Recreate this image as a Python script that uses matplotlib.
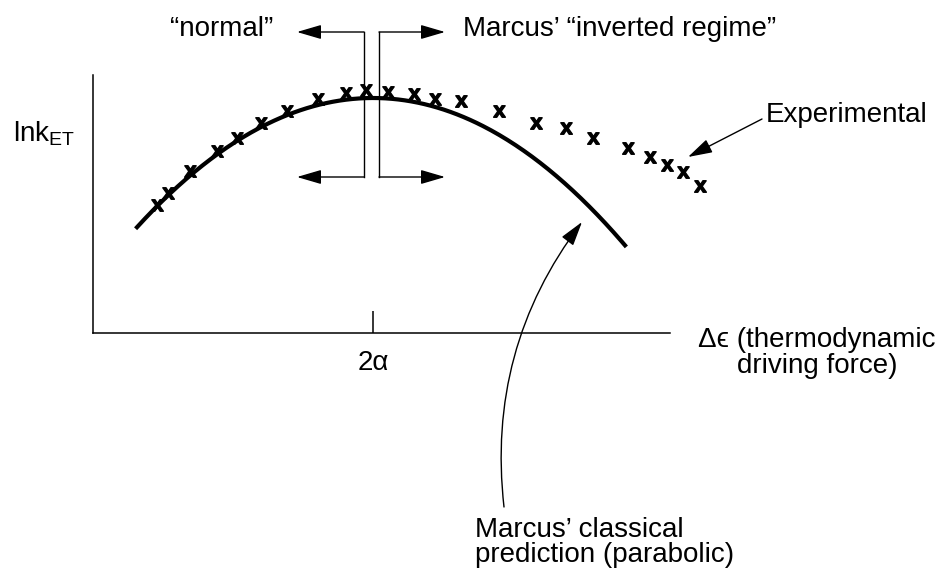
import numpy as np
import matplotlib
matplotlib.use("Agg")
import matplotlib.pyplot as plt

plt.rcParams['font.family'] = ['Liberation Sans', 'DejaVu Sans']
plt.rcParams['mathtext.fontset'] = 'custom'
plt.rcParams['mathtext.rm'] = 'Liberation Sans'
plt.rcParams['mathtext.bf'] = 'Liberation Sans:bold'
FS = 20

# experimental rate points (driving force, ln k)
exp_x = [64, 75, 97, 124, 144, 168, 194, 225, 253, 273, 295, 321, 342, 368,
         406, 443, 473, 500, 535, 557, 574, 590, 607]
exp_y = [128, 140, 162, 182, 195, 210, 222, 234, 240, 243, 241, 239, 234, 232,
         222, 210, 205, 195, 185, 176, 168, 161, 147]

# classical Marcus parabola: apex at 2*alpha
apex_x, apex_y = 280, 235
curv = 0.00232
curve_x = np.linspace(44, 532, 300)
curve_y = apex_y - curv * (curve_x - apex_x) ** 2

fig = plt.figure(figsize=(9.41, 5.70), dpi=100)
ax = fig.add_axes([93 / 941, 237 / 570, 577 / 941, 258 / 570])
ax.set_xlim(0, 577)
ax.set_ylim(0, 258)
for s in ['top', 'right']:
    ax.spines[s].set_visible(False)
for s in ['left', 'bottom']:
    ax.spines[s].set_linewidth(1.1)
ax.set_yticks([])
ax.set_xticks([apex_x])
ax.set_xticklabels(['2α'], fontsize=FS)
ax.tick_params(axis='x', direction='in', length=16, width=1.1, pad=12)

ax.plot(curve_x, curve_y, color='black', lw=3.0, clip_on=False)
ax.plot(exp_x, exp_y, linestyle='none', marker=r'$\mathbf{x}$', ms=8.5,
        color='black', clip_on=False)

# normal / inverted region brackets
lx, rx = 271, 286
top, bot = 301, 156
ax.plot([lx, lx], [top, bot], color='black', lw=1, clip_on=False)
ax.plot([rx, rx], [top, bot], color='black', lw=1, clip_on=False)
head = dict(arrowstyle='-|>,head_length=0.75,head_width=0.22', color='black',
            lw=1, mutation_scale=20, shrinkA=0, shrinkB=0)
for yy in [top, bot]:
    ax.annotate('', xy=(204, yy), xytext=(lx, yy), arrowprops=head, annotation_clip=False)
    ax.annotate('', xy=(352, yy), xytext=(rx, yy), arrowprops=head, annotation_clip=False)

ax.text(180, 297, '“normal”', fontsize=FS, ha='right', va='baseline')
ax.text(370, 297, 'Marcus’ “inverted regime”', fontsize=FS, ha='left', va='baseline')

ax.text(-18, 192, r'lnk$_{\mathregular{ET}}$', fontsize=FS, ha='right', va='baseline')

ax.text(673, 211, 'Experimental', fontsize=FS, ha='left', va='baseline')
ax.annotate('', xy=(595, 176), xytext=(669, 214), arrowprops=head, annotation_clip=False)

ax.text(724, -14, 'Δϵ (thermodynamic', fontsize=FS, ha='center', va='baseline')
ax.text(724, -40, 'driving force)', fontsize=FS, ha='center', va='baseline')

ax.text(382, -204, 'Marcus’ classical', fontsize=FS, ha='left', va='baseline')
ax.text(382, -229, 'prediction (parabolic)', fontsize=FS, ha='left', va='baseline')
ax.annotate('', xy=(489, 111), xytext=(411, -174),
            arrowprops=dict(head, connectionstyle='arc3,rad=-0.2'),
            annotation_clip=False)

fig.savefig('out.png', dpi=100)
